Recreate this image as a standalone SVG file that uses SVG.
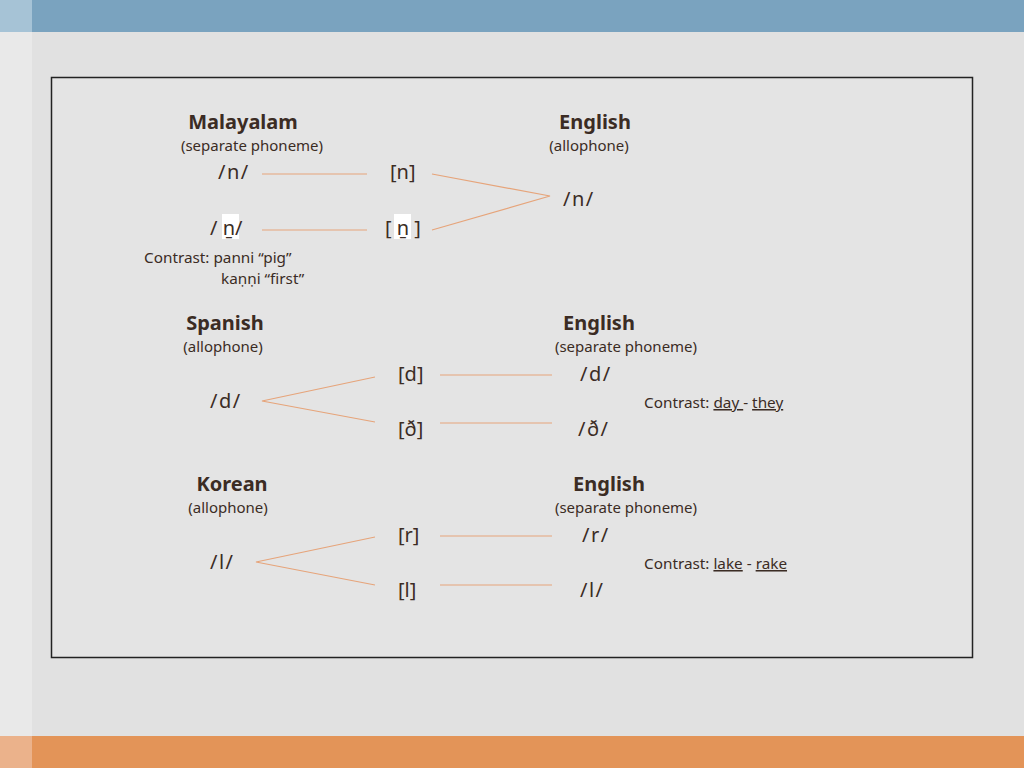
<svg xmlns="http://www.w3.org/2000/svg" width="1024" height="768" viewBox="0 0 1024 768">
<style>
text{font-family:"Noto Sans","Open Sans","DejaVu Sans",sans-serif;fill:#3b2c24}
.h{font-size:20px;font-weight:bold;text-anchor:middle}
.s{font-size:15px;text-anchor:middle}
.p{font-size:20px}
.c{font-size:15.3px}
.u{text-decoration:underline}
.ln{stroke:#e6a47a;stroke-width:1.2;fill:none}
</style>
<rect x="0" y="0" width="1024" height="768" fill="#e1e1e1"/>
<rect x="0" y="0" width="32" height="768" fill="#e9e9e9"/>
<rect x="32" y="0" width="992" height="32" fill="#7aa3bf"/>
<rect x="0" y="0" width="32" height="32" fill="#a6c3d6"/>
<rect x="32" y="736" width="992" height="32" fill="#e39458"/>
<rect x="0" y="736" width="32" height="32" fill="#ebb28b"/>
<rect x="51.5" y="77.5" width="921" height="580" fill="#e4e4e4" stroke="#222" stroke-width="1.5"/>
<g id="connectors">
<line class="ln" x1="262" y1="174" x2="367" y2="174"/>
<line class="ln" x1="262" y1="230" x2="367" y2="230"/>
<polyline class="ln" points="432,174 550,196 432,230"/>
<polyline class="ln" points="375,377 262,401 375,422"/>
<line class="ln" x1="440" y1="375" x2="552" y2="375"/>
<line class="ln" x1="440" y1="423" x2="552" y2="423"/>
<polyline class="ln" points="375,537 256,562 375,585"/>
<line class="ln" x1="440" y1="536" x2="552" y2="536"/>
<line class="ln" x1="440" y1="585" x2="552" y2="585"/>
</g>
<g id="malayalam">
<text class="h" x="243" y="129">Malayalam</text>
<text class="s" x="252" y="151">(separate phoneme)</text>
<text class="p" x="218" y="179" letter-spacing="1.5">/n/</text>
<rect x="222" y="214" width="17" height="25" fill="#ffffff"/>
<text class="p" x="210" y="235">/ ṉ/</text>
<text class="c" x="144" y="263">Contrast: panni “pig”</text>
<text class="c" x="221" y="284">kaṇṇi  “first”</text>
</g>
<g id="malayalam-allo">
<text class="p" x="390" y="179">[n]</text>
<rect x="394" y="214" width="17" height="25" fill="#ffffff"/>
<text class="p" x="385" y="235">[ ṉ ]</text>
</g>
<g id="english1">
<text class="h" x="595" y="129">English</text>
<text class="s" x="589" y="151">(allophone)</text>
<text class="p" x="563" y="206" letter-spacing="1.5">/n/</text>
</g>
<g id="spanish">
<text class="h" x="225" y="330">Spanish</text>
<text class="s" x="223" y="352">(allophone)</text>
<text class="p" x="210" y="408" letter-spacing="1.5">/d/</text>
<text class="p" x="398" y="381">[d]</text>
<text class="p" x="398" y="436">[ð]</text>
</g>
<g id="english2">
<text class="h" x="599" y="330">English</text>
<text class="s" x="626" y="352">(separate phoneme)</text>
<text class="p" x="580" y="381" letter-spacing="1.5">/d/</text>
<text class="p" x="578" y="436" letter-spacing="1.5">/ð/</text>
<text class="c" x="644" y="408">Contrast: <tspan class="u">day </tspan>- <tspan class="u">they</tspan></text>
</g>
<g id="korean">
<text class="h" x="232" y="491">Korean</text>
<text class="s" x="228" y="513">(allophone)</text>
<text class="p" x="210" y="569" letter-spacing="1.5">/l/</text>
<text class="p" x="398" y="542">[r]</text>
<text class="p" x="398" y="597">[l]</text>
</g>
<g id="english3">
<text class="h" x="609" y="491">English</text>
<text class="s" x="626" y="513">(separate phoneme)</text>
<text class="p" x="582" y="542" letter-spacing="1.5">/r/</text>
<text class="p" x="580" y="597" letter-spacing="1.5">/l/</text>
<text class="c" x="644" y="569">Contrast: <tspan class="u">lake</tspan> - <tspan class="u">rake</tspan></text>
</g>
</svg>
